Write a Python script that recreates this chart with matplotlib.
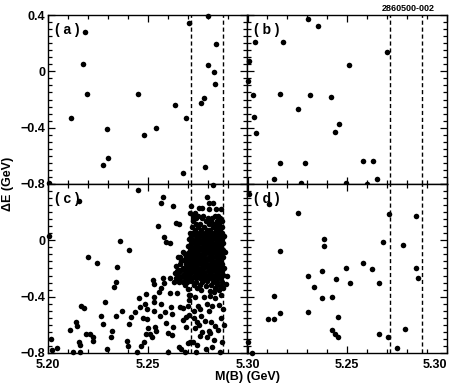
import matplotlib.pyplot as plt
from matplotlib.ticker import MultipleLocator, FuncFormatter

plt.rcParams['font.family'] = ['Liberation Sans', 'DejaVu Sans']
plt.rcParams['font.weight'] = 'bold'

# signal window in M(B)
window = [5.2715, 5.2875]

# (a) and (b): sparse
a_pts = [(5.2186, 0.277), (5.2176, 0.055), (5.2193, -0.163), (5.2116, -0.330),
         (5.2296, -0.410), (5.2300, -0.615), (5.2276, -0.663), (5.2452, -0.159),
         (5.2482, -0.450), (5.2543, -0.400), (5.2637, -0.239), (5.2690, -0.331),
         (5.2678, -0.720), (5.2707, 0.340), (5.2802, 0.392), (5.2843, 0.194),
         (5.2802, 0.043), (5.2831, -0.003), (5.2836, -0.090), (5.2784, -0.190),
         (5.2765, -0.223), (5.2787, -0.680), (5.2005, -0.790)]

b_pts = [(5.2302, 0.372), (5.2353, 0.324), (5.2037, 0.206), (5.2177, 0.206),
         (5.2698, 0.135), (5.2010, 0.076), (5.2508, 0.047), (5.2005, -0.069),
         (5.2027, -0.168), (5.2162, -0.163), (5.2312, -0.166), (5.2417, -0.184),
         (5.2253, -0.265), (5.2033, -0.327), (5.2458, -0.374), (5.2438, -0.428),
         (5.2043, -0.435), (5.2165, -0.649), (5.2288, -0.653), (5.2577, -0.637),
         (5.2627, -0.639), (5.2132, -0.764), (5.2648, -0.762), (5.2270, -0.795),
         (5.2495, -0.790), (5.2598, -0.797)]

# (c): sideband part
c_side = [(5.2003, 0.033), (5.2013, -0.703), (5.2022, -0.781), (5.2047, -0.767),
          (5.2157, 0.279), (5.2111, -0.639), (5.2124, -0.795), (5.2164, -0.464),
          (5.2181, -0.483), (5.2142, -0.582), (5.2144, -0.606), (5.2156, -0.724),
          (5.2162, -0.741), (5.2161, -0.793), (5.2198, -0.116), (5.2191, -0.663),
          (5.2208, -0.663), (5.2224, -0.686), (5.2226, -0.717), (5.2245, -0.161),
          (5.2266, -0.537), (5.2275, -0.596), (5.2286, -0.438), (5.2295, -0.774),
          (5.2317, -0.684), (5.2323, -0.644), (5.2333, -0.331), (5.2342, -0.293),
          (5.2347, -0.192), (5.2360, -0.005), (5.2369, -0.502), (5.2343, -0.540),
          (5.2405, -0.069), (5.2394, -0.717), (5.2400, -0.750), (5.2407, -0.596),
          (5.2417, -0.542), (5.2436, -0.506), (5.2446, -0.795), (5.2451, 0.357),
          (5.2456, -0.407), (5.2459, -0.471), (5.2464, -0.748), (5.2474, -0.554),
          (5.2481, -0.720), (5.2484, -0.455), (5.2490, -0.379), (5.2492, -0.667),
          (5.2496, -0.561), (5.2497, -0.485), (5.2503, -0.620), (5.2511, -0.667),
          (5.2521, -0.686), (5.2528, -0.284), (5.2531, -0.312), (5.2533, -0.405),
          (5.2533, -0.438), (5.2533, -0.502), (5.2534, -0.615), (5.2539, -0.646),
          (5.2553, 0.104), (5.2556, -0.367), (5.2565, -0.336), (5.2560, -0.540),
          (5.2565, 0.267), (5.2578, 0.308), (5.2583, 0.024), (5.2590, -0.014),
          (5.2576, -0.265), (5.2580, -0.303), (5.2568, -0.455), (5.2588, -0.509),
          (5.2591, -0.589), (5.2600, -0.660), (5.2601, -0.795), (5.2610, -0.021),
          (5.2613, -0.265), (5.2611, -0.376), (5.2618, -0.476), (5.2624, -0.523),
          (5.2626, 0.244), (5.2625, -0.613), (5.2623, -0.670), (5.2643, 0.120),
          (5.2655, 0.114), (5.2643, -0.182), (5.2638, -0.234), (5.2630, -0.293),
          (5.2663, -0.116), (5.2677, -0.080), (5.2655, -0.210), (5.2658, -0.282),
          (5.2647, -0.376), (5.2663, -0.471), (5.2677, -0.483), (5.2677, -0.566),
          (5.2655, -0.755), (5.2667, -0.772), (5.2685, -0.795), (5.2690, -0.542),
          (5.2693, -0.613), (5.2700, -0.727), (5.2714, -0.720), (5.2705, -0.530),
          (5.2707, -0.388), (5.2740, -0.795)]

# (c): signal-region cluster, listed row by row in dE
c_peak = [(5.2826, 0.390), (5.2799, 0.310), (5.2807, 0.267), (5.2827, 0.267),
          (5.2719, 0.244), (5.2755, 0.227), (5.2771, 0.227), (5.2806, 0.220),
          (5.2843, 0.220), (5.2866, 0.220), (5.2714, 0.197), (5.2738, 0.197),
          (5.2728, 0.175), (5.2752, 0.175), (5.2779, 0.175), (5.2836, 0.175), (5.2853, 0.175),
          (5.2744, 0.155), (5.2771, 0.155), (5.2801, 0.155), (5.2822, 0.155), (5.2861, 0.155),
          (5.2725, 0.135), (5.2790, 0.135), (5.2815, 0.135), (5.2846, 0.135), (5.2874, 0.135),
          (5.2741, 0.115), (5.2762, 0.115), (5.2806, 0.115), (5.2833, 0.115), (5.2857, 0.115),
          (5.2721, 0.095), (5.2752, 0.095), (5.2783, 0.095), (5.2826, 0.095), (5.2849, 0.095),
          (5.2871, 0.095),
          (5.2735, 0.075), (5.2768, 0.075), (5.2795, 0.075), (5.2813, 0.075), (5.2841, 0.075),
          (5.2862, 0.075),
          (5.2711, 0.055), (5.2729, 0.055), (5.2749, 0.055), (5.2765, 0.055), (5.2785, 0.055),
          (5.2801, 0.055), (5.2821, 0.055), (5.2837, 0.055), (5.2857, 0.055), (5.2873, 0.055),
          (5.2719, 0.032), (5.2740, 0.030), (5.2756, 0.034), (5.2776, 0.029), (5.2792, 0.031),
          (5.2812, 0.033), (5.2828, 0.028), (5.2848, 0.032), (5.2864, 0.030), (5.2881, 0.031),
          (5.2707, 0.007), (5.2727, 0.005), (5.2745, 0.009), (5.2763, 0.004), (5.2781, 0.006),
          (5.2799, 0.008), (5.2817, 0.003), (5.2835, 0.007), (5.2853, 0.005), (5.2870, 0.006),
          (5.2716, -0.018), (5.2736, -0.020), (5.2752, -0.016), (5.2772, -0.021), (5.2788, -0.019),
          (5.2808, -0.017), (5.2824, -0.022), (5.2844, -0.018), (5.2860, -0.020), (5.2879, -0.019),
          (5.2704, -0.043), (5.2723, -0.045), (5.2743, -0.041), (5.2759, -0.046), (5.2779, -0.044),
          (5.2795, -0.042), (5.2815, -0.047), (5.2831, -0.043), (5.2851, -0.045), (5.2867, -0.044),
          (5.2713, -0.068), (5.2733, -0.070), (5.2750, -0.066), (5.2770, -0.071), (5.2786, -0.069),
          (5.2806, -0.067), (5.2822, -0.072), (5.2842, -0.068), (5.2858, -0.070), (5.2877, -0.069),
          (5.2889, -0.080),
          (5.2688, -0.095), (5.2702, -0.093), (5.2720, -0.095), (5.2741, -0.091), (5.2757, -0.096),
          (5.2777, -0.094), (5.2793, -0.092), (5.2813, -0.097), (5.2829, -0.093), (5.2849, -0.095),
          (5.2865, -0.094),
          (5.2650, -0.120), (5.2690, -0.118), (5.2711, -0.120), (5.2730, -0.116), (5.2748, -0.121),
          (5.2768, -0.119), (5.2784, -0.117), (5.2804, -0.122), (5.2820, -0.118), (5.2840, -0.120),
          (5.2856, -0.119), (5.2875, -0.121),
          (5.2668, -0.145), (5.2680, -0.143), (5.2700, -0.145), (5.2718, -0.141), (5.2739, -0.146),
          (5.2755, -0.144), (5.2775, -0.142), (5.2791, -0.147), (5.2811, -0.143), (5.2827, -0.145),
          (5.2847, -0.144), (5.2863, -0.146),
          (5.2660, -0.170), (5.2690, -0.168), (5.2709, -0.170), (5.2728, -0.166), (5.2746, -0.171),
          (5.2766, -0.169), (5.2782, -0.167), (5.2802, -0.172), (5.2818, -0.168), (5.2838, -0.170),
          (5.2854, -0.169), (5.2873, -0.171),
          (5.2678, -0.195), (5.2698, -0.193), (5.2716, -0.195), (5.2737, -0.191), (5.2753, -0.196),
          (5.2773, -0.194), (5.2789, -0.192), (5.2809, -0.197), (5.2825, -0.193), (5.2845, -0.195),
          (5.2861, -0.194), (5.2880, -0.196),
          (5.2645, -0.220), (5.2660, -0.218), (5.2688, -0.220), (5.2707, -0.216), (5.2726, -0.221),
          (5.2744, -0.219), (5.2764, -0.217), (5.2780, -0.222), (5.2800, -0.218), (5.2816, -0.220),
          (5.2836, -0.219), (5.2852, -0.221), (5.2871, -0.220),
          (5.2652, -0.245), (5.2675, -0.243), (5.2697, -0.245), (5.2714, -0.241), (5.2735, -0.246),
          (5.2751, -0.244), (5.2771, -0.242), (5.2787, -0.247), (5.2807, -0.243), (5.2823, -0.245),
          (5.2843, -0.244), (5.2859, -0.246), (5.2878, -0.245), (5.2895, -0.250),
          (5.2640, -0.270), (5.2662, -0.268), (5.2686, -0.270), (5.2705, -0.266), (5.2724, -0.271),
          (5.2742, -0.269), (5.2762, -0.267), (5.2778, -0.272), (5.2798, -0.268), (5.2814, -0.270),
          (5.2834, -0.269), (5.2850, -0.271), (5.2869, -0.270),
          (5.2655, -0.295), (5.2675, -0.293), (5.2698, -0.295), (5.2716, -0.291), (5.2740, -0.296),
          (5.2771, -0.294), (5.2796, -0.292), (5.2826, -0.297), (5.2848, -0.293), (5.2872, -0.295),
          (5.2890, -0.310),
          (5.2688, -0.320), (5.2730, -0.320), (5.2760, -0.318), (5.2790, -0.322), (5.2815, -0.320),
          (5.2845, -0.319), (5.2866, -0.321),
          (5.2700, -0.345), (5.2745, -0.335), (5.2768, -0.352), (5.2812, -0.358), (5.2835, -0.340),
          (5.2858, -0.350), (5.2878, -0.335),
          (5.2710, -0.390), (5.2735, -0.400), (5.2784, -0.400), (5.2814, -0.398), (5.2831, -0.370),
          (5.2839, -0.410), (5.2868, -0.390),
          (5.2705, -0.425), (5.2702, -0.468), (5.2730, -0.500), (5.2764, -0.490), (5.2750, -0.468),
          (5.2805, -0.504), (5.2822, -0.468), (5.2795, -0.452), (5.2855, -0.460), (5.2875, -0.490),
          (5.2730, -0.552), (5.2745, -0.580), (5.2789, -0.570), (5.2768, -0.540), (5.2839, -0.606),
          (5.2815, -0.580), (5.2868, -0.552), (5.2880, -0.600),
          (5.2739, -0.620), (5.2755, -0.600), (5.2774, -0.650), (5.2805, -0.644), (5.2814, -0.660),
          (5.2850, -0.640), (5.2760, -0.680), (5.2795, -0.690), (5.2831, -0.705), (5.2725, -0.720),
          (5.2745, -0.740), (5.2870, -0.720), (5.2790, -0.770), (5.2820, -0.760), (5.2864, -0.795)]

d_pts = [(5.2010, 0.331), (5.2107, 0.256), (5.2252, 0.194), (5.2707, 0.189),
         (5.2843, 0.175), (5.2385, 0.009), (5.2382, -0.040), (5.2677, -0.012),
         (5.2780, -0.033), (5.2165, -0.078), (5.2577, -0.159), (5.2493, -0.196),
         (5.2622, -0.204), (5.2845, -0.196), (5.2373, -0.216), (5.2857, -0.265),
         (5.2302, -0.255), (5.2445, -0.277), (5.2512, -0.305), (5.2658, -0.301),
         (5.2333, -0.334), (5.2132, -0.395), (5.2373, -0.412), (5.2422, -0.405),
         (5.2305, -0.509), (5.2165, -0.518), (5.2103, -0.556), (5.2132, -0.559),
         (5.2452, -0.547), (5.2422, -0.639), (5.2440, -0.663), (5.2452, -0.684),
         (5.2657, -0.667), (5.2703, -0.684), (5.2792, -0.632), (5.2748, -0.767),
         (5.2002, -0.724), (5.2023, -0.797)]

panels = [("( a )", a_pts), ("( b )", b_pts), ("( c )", c_side + c_peak), ("( d )", d_pts)]


def fmt_y(v, pos):
    if abs(v) < 1e-9:
        return "0"
    return ("%.1f" % v).replace("-", "\u2212")


fig, axes = plt.subplots(2, 2, figsize=(4.5, 3.87), dpi=100)
fig.subplots_adjust(left=0.1067, right=0.9933, top=0.9612, bottom=0.0879,
                    wspace=0, hspace=0)

for i, (ax, (label, pts)) in enumerate(zip(axes.flat, panels)):
    xs = [p[0] for p in pts]
    ys = [p[1] for p in pts]
    ax.scatter(xs, ys, s=16, c="k", linewidths=0, clip_on=False, zorder=3)
    for xv in window:
        ax.axvline(xv, color="k", lw=1.0, ls=(0, (3, 2)))

    ax.set_xlim(5.2, 5.3)
    ax.set_ylim(-0.8, 0.4)
    ax.xaxis.set_major_locator(MultipleLocator(0.05))
    ax.xaxis.set_minor_locator(MultipleLocator(0.01))
    ax.yaxis.set_major_locator(MultipleLocator(0.4))
    ax.yaxis.set_minor_locator(MultipleLocator(0.05))
    ax.tick_params(which="both", direction="in", top=True, right=True,
                   width=0.9, labelsize=9)
    ax.tick_params(which="major", length=5)
    ax.tick_params(which="minor", length=3)
    ax.tick_params(axis="x", pad=4)
    ax.tick_params(axis="y", pad=2)
    for s in ax.spines.values():
        s.set_linewidth(1.0)

    row, col = divmod(i, 2)
    if row == 0:
        ax.set_xticklabels([])
    else:
        ax.xaxis.set_major_formatter(FuncFormatter(
            lambda v, p, c=col: "" if (c == 1 and v < 5.21) else "%.2f" % v))
    if col == 1:
        ax.set_yticklabels([])
    else:
        ax.yaxis.set_major_formatter(FuncFormatter(
            lambda v, p, r=row: "" if (r == 1 and v > 0.3) else fmt_y(v, p)))

    ax.text(0.035, 0.91, label, transform=ax.transAxes, fontsize=10,
            fontweight="bold", va="center", ha="left")

fig.text(0.018, 0.5245, "\u0394E (GeV)", rotation=90, fontsize=9,
         fontweight="bold", va="center", ha="center")
fig.text(0.549, 0.026, "M(B) (GeV)", fontsize=9, fontweight="bold",
         va="center", ha="center")
fig.text(0.965, 0.978, "2860500-002", fontsize=6.5, fontweight="bold",
         va="center", ha="right")

# keep the last "5.30" inside the figure
fig.canvas.draw()
last = [t for t in axes[1, 1].get_xticklabels() if t.get_text() == "5.30"]
for t in last:
    t.set_horizontalalignment("right")
    t.set_x(5.3015)

fig.savefig("out.png", dpi=100)
